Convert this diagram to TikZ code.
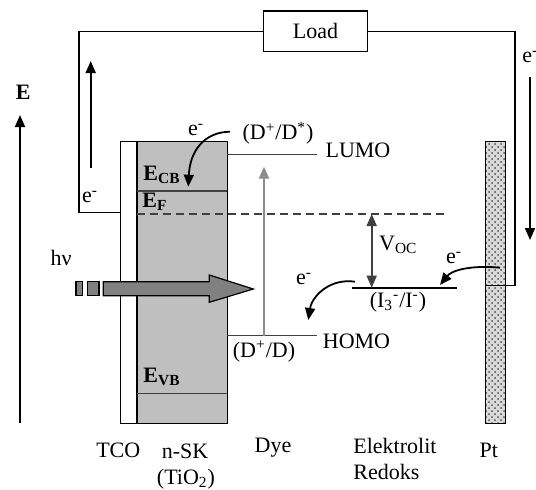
\documentclass[tikz,border=0pt]{standalone}
\usepackage{fontspec}
\setmainfont{Liberation Serif}
\usetikzlibrary{arrows.meta,patterns}

\tikzset{
  wire/.style={black,line width=0.6pt},
  flow/.style={black,line width=0.9pt,-{Triangle[length=6pt,width=5pt]}},
  level/.style={black!75,line width=0.6pt},
}

\begin{document}
\begin{tikzpicture}[x=0.5pt,y=-0.5pt,
  every node/.style={font=\fontsize{11}{13}\selectfont,inner sep=0pt}]
  \useasboundingbox (0,0) rectangle (536,489);
  % layers of the cell
  \filldraw[wire,fill=white] (120.7,141.7) rectangle (136.7,423.3);
  \filldraw[wire,fill=gray!50] (136.7,141.7) rectangle (227.3,423.3);
  \draw[line width=1.1pt] (136.7,141.7) -- (136.7,423.3);
  \draw[level] (136.7,191) -- (227.3,191);
  \draw[level] (136.7,393.3) -- (227.3,393.3);
  \filldraw[wire,fill=gray!30] (485.7,141.7) rectangle (505.7,423.3);
  \fill[pattern=crosshatch dots,pattern color=black!70] (485.7,141.7) rectangle (505.7,423.3);
  \draw[wire] (485.7,141.7) rectangle (505.7,423.3);
  \draw[black!75,dashed,dash pattern=on 4pt off 2.5pt,line width=0.6pt] (136.7,214) -- (445,214);
  % external circuit
  \node[draw,line width=0.6pt,minimum width=52pt,minimum height=20.3pt] (load) at (315.5,31.3) {Load};
  \coordinate (tco) at (120.7,212.7);
  \coordinate (pt) at (485.7,285.7);
  \draw[wire] (tco) -- (79,212.7) |- (load.west);
  \draw[wire] (load.east) -| (515,285.7) -- (pt);
  \draw[flow] (90.7,168) -- (90.7,61);
  \draw[flow] (530,77) -- (530,240);
  \node (eout) at (90,197) {e\textsuperscript{-}};
  \node[anchor=west] (ein) at (522,57) {e\textsuperscript{-}};
  % energy axis
  \draw[flow] (20,423) -- (20,115);
  \node (axis) at (23.3,92.5) {\textbf{E}};
  % dye levels
  \draw[level] (227.3,154.3) -- (316.7,154.3);
  \draw[level] (227.3,335.7) -- (316.7,335.7);
  \draw[gray!90,line width=0.9pt,-{Triangle[length=6pt,width=5pt]}] (264,335.7) -- (264,166.7);
  \node (lumo) at (358,150) {LUMO};
  \node (homo) at (356.5,341.7) {HOMO};
  \node (dstar) at (278,133.3) {(D\textsuperscript{+}/D\textsuperscript{*})};
  \node (dground) at (264,351.7) {(D\textsuperscript{+}/D)};
  % electrolyte
  \draw[line width=1pt] (351.7,287.7) -- (456.7,287.7);
  \draw[black!75,line width=0.8pt,{Triangle[length=6pt,width=5pt]}-{Triangle[length=6pt,width=5pt]}] (371.7,214) -- (371.7,287.7);
  \node (voc) at (398.3,245) {V\textsubscript{OC}};
  \node (redox) at (398,302) {(I\textsubscript{3}\textsuperscript{-}/I\textsuperscript{-})};
  % electron transfer
  \draw[flow] (230,131.7) .. controls (205,132) and (190,150) .. (188.3,186.7);
  \node (einj) at (196,130) {e\textsuperscript{-}};
  \draw[flow] (355,281.7) .. controls (330,278) and (312,296) .. (308.3,320);
  \node (ereg) at (304,279) {e\textsuperscript{-}};
  \draw[flow] (500,267.7) .. controls (472,265) and (452,270) .. (440,285);
  \node (ept) at (454,258) {e\textsuperscript{-}};
  \node (ecb) at (162,175) {\textbf{E\textsubscript{CB}}};
  \node (ef) at (155,201.7) {\textbf{E\textsubscript{F}}};
  \node (evb) at (162,376.7) {\textbf{E\textsubscript{VB}}};
  % light
  \node (hv) at (61,258.3) {hν};
  \filldraw[wire,fill=gray] (76,281.7) rectangle (82.7,295.7);
  \filldraw[wire,fill=gray] (87.7,281.7) rectangle (99,295.7);
  \filldraw[wire,fill=gray] (103.3,281.7) -- (209.3,281.7) -- (209.3,275) -- (253.3,289)
    -- (209.3,302.3) -- (209.3,295.7) -- (103.3,295.7) -- cycle;
  % labels
  \node (ltco) at (118.3,450) {TCO};
  \node (lnsk) at (185,451) {n-SK};
  \node (ltio) at (186,479) {(TiO\textsubscript{2})};
  \node (ldye) at (273,448) {Dye};
  \node[anchor=west] (lel) at (353,446) {Elektrolit};
  \node[anchor=west] (lred) at (353,472) {Redoks};
  \node (lpt) at (488.7,450) {Pt};
\end{tikzpicture}
\end{document}
